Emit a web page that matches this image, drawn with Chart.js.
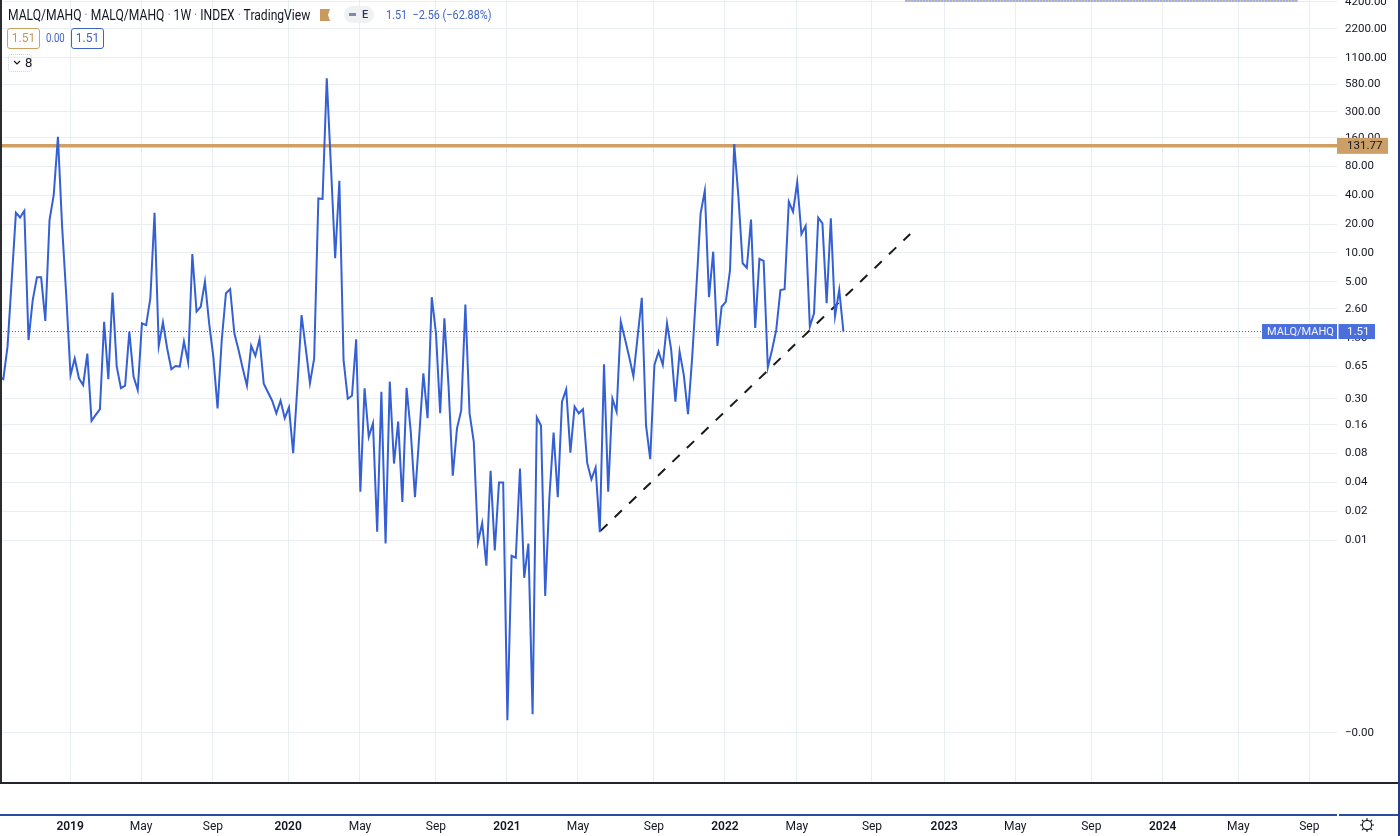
<!DOCTYPE html>
<html>
<head>
<meta charset="utf-8">
<title>MALQ/MAHQ</title>
<script src="https://cdn.jsdelivr.net/npm/chart.js"></script>
<style>
    html, body { margin: 0; padding: 0; background: #fff; }
    #wrap {
        position: relative;
        width: 1400px;
        height: 836px;
        overflow: hidden;
        font-family: Roboto, "Liberation Sans", sans-serif;
        color: #131722;
    }
    #wrap div, #wrap span, #wrap svg { position: absolute; white-space: nowrap; }
    #title { left: 8px; top: 7px; font-size: 14px; line-height: 17px; transform: scaleX(0.865); transform-origin: left; }
    #title i { font-style: normal; color: #8a93a6; }
    #pill { left: 344px; top: 6px; width: 30px; height: 17px; border-radius: 9px; background: #f0f1f3; }
    #pillE { left: 362px; top: 8px; font-size: 11px; line-height: 13px; font-weight: 500; color: #2a3a5e; }
    #pillDots { left: 349px; top: 13px; width: 7px; height: 3px; background: #7c8aa8; }
    #change { left: 386px; top: 7px; font-size: 13px; line-height: 16px; color: #3f64c8; transform: scaleX(0.835); transform-origin: left; }
    .box { box-sizing: border-box; height: 21px; top: 28px; border-radius: 3px; font-size: 12px; line-height: 19px; text-align: center; }
    #open { left: 7px; width: 33px; border: 1px solid #cf9f63; color: #c9985c; }
    #mid { left: 46px; top: 31px; font-size: 12px; line-height: 15px; color: #3f64c8; transform: scaleX(0.8); transform-origin: left; }
    #last { left: 71px; width: 33px; border: 1px solid #3f64c8; color: #3f64c8; }
    #more { box-sizing: border-box; left: 8px; top: 54px; width: 24px; height: 18px; border: 1px dotted #c9d2e6; border-radius: 3px; }
    #moreTxt { left: 25px; top: 56px; font-size: 13px; line-height: 14px; }
    #strip { left: 905px; top: 0; width: 393px; height: 2px; background: repeating-linear-gradient(90deg, #9fb0e8 0 2px, #d8c4a8 2px 3px); }
    #leftEdge { left: 0; top: 0; width: 2px; height: 784px; background: #2a2c30; }
    #rightEdge { left: 1398px; top: 0; width: 2px; height: 836px; background: #1f3d8f; }
    #paneLine { left: 0; top: 782px; width: 1398px; height: 2px; background: #22252b; }
    #axisLine { left: 0; top: 814px; width: 1398px; height: 2px; background: #2b4aa6; }
    #axisGap { left: 1337px; top: 813px; width: 2px; height: 4px; background: #fff; }
</style>
</head>
<body>
<div id="wrap">
    <canvas id="chart" width="1400" height="836"></canvas>
    <div id="leftEdge"></div>
    <div id="rightEdge"></div>
    <div id="paneLine"></div>
    <div id="axisLine"></div>
    <div id="axisGap"></div>
    <div id="strip"></div>
    <div id="title">MALQ/MAHQ <i>·</i> MALQ/MAHQ <i>·</i> 1W <i>·</i> INDEX <i>·</i> TradingView</div>
    <svg style="left:320px;top:9px" width="11" height="12" viewBox="0 0 11 12"><path d="M0 0H10L8 6L10 12H0Z" fill="#c99a5e"/></svg>
    <div id="pill"></div>
    <div id="pillDots"></div>
    <div id="pillE">E</div>
    <div id="change">1.51&nbsp; −2.56 (−62.88%)</div>
    <div id="open" class="box">1.51</div>
    <div id="mid">0.00</div>
    <div id="last" class="box">1.51</div>
    <div id="more"></div>
    <svg style="left:13px;top:60px" width="8" height="6" viewBox="0 0 8 6"><path d="M1 1L4 4L7 1" fill="none" stroke="#131722" stroke-width="1.2"/></svg>
    <div id="moreTxt">8</div>
    <svg style="left:1359px;top:817px" width="16" height="16" viewBox="0 0 16 16">
        <circle cx="8" cy="8" r="4.6" fill="none" stroke="#131722" stroke-width="1.1"/>
        <path d="M8 1V3M8 13V15M1 8H3M13 8H15M3 3L4.5 4.5M13 3L11.5 4.5M3 13L4.5 11.5M13 13L11.5 11.5" stroke="#131722" stroke-width="1.1"/>
    </svg>
</div>

<script>
// weekly closes
const closes = [
    0.51, 0.48, 1.05, 5.23, 26.3, 23.5, 27.6, 1.23, 3.22, 5.57,
    5.57, 1.95, 22.1, 40.4, 163.8, 18.8, 3.50, 0.53, 0.79, 0.49,
    0.416, 0.89, 0.176, 0.203, 0.233, 1.91, 0.48, 3.85, 0.65, 0.386,
    0.41, 1.51, 0.51, 0.37, 1.84, 1.76, 3.35, 26.3, 1.07, 1.89,
    1.01, 0.61, 0.66, 0.65, 1.19, 0.72, 9.75, 2.44, 2.74, 5.02,
    1.84, 0.82, 0.238, 1.23, 3.80, 4.19, 1.45, 0.97, 0.62, 0.41,
    1.07, 0.84, 1.26, 0.43, 0.35, 0.286, 0.211, 0.286, 0.188, 0.244,
    0.081, 0.40, 2.24, 1.01, 0.434, 0.79, 37.2, 36.7, 669, 79.7,
    8.8, 56.8, 0.76, 0.30, 0.322, 1.25, 0.032, 0.386, 0.12, 0.166,
    0.0122, 0.355, 0.0092, 0.452, 0.063, 0.173, 0.025, 0.39, 0.135, 0.028,
    0.12, 0.553, 0.188, 3.45, 1.45, 0.211, 2.08, 0.40, 0.047, 0.147,
    0.225, 2.90, 0.211, 0.106, 0.0095, 0.015, 0.0054, 0.053, 0.0078, 0.04,
    0.04, 0.000131, 0.00685, 0.00653, 0.056, 0.00403, 0.0092, 0.000151, 0.192, 0.157,
    0.0026, 0.028, 0.133, 0.028, 0.279, 0.376, 0.082, 0.248, 0.211, 0.233,
    0.064, 0.043, 0.057, 0.0121, 0.686, 0.032, 0.30, 0.219, 1.91, 1.26,
    0.82, 0.516, 1.33, 3.40, 0.159, 0.07, 0.676, 0.93, 0.676, 1.84,
    0.97, 0.279, 0.93, 0.53, 0.207, 0.82, 4.38, 25.9, 44.8, 3.45,
    10.31, 1.07, 2.74, 3.09, 6.62, 137.8, 38.7, 7.81, 7.0, 22.4,
    1.65, 8.67, 8.26, 0.64, 0.97, 1.57, 4.10, 4.19, 34.4, 27,
    54.8, 15.7, 19.2, 1.70, 2.34, 23.4, 20.4, 2.98, 23, 2.2,
    4.10, 1.51
];

// x ticks, in weeks from the first bar
const timeWeeks = [16.9, 33.8, 50.9, 68.8, 85.9, 104, 120.9, 137.8, 155.9, 172.8, 189.9, 207.8, 225, 241.9, 260, 277, 295, 311.9];
const timeLabels = ['2019', 'May', 'Sep', '2020', 'May', 'Sep', '2021', 'May', 'Sep', '2022', 'May', 'Sep', '2023', 'May', 'Sep', '2024', 'May', 'Sep'];

const priceTicks = [4200, 2200, 1100, 580, 300, 160, 80, 40, 20, 10, 5, 2.6, 1.3, 0.65, 0.3, 0.16, 0.08, 0.04, 0.02, 0.01, 0.000097];
const priceLabels = ['4200.00', '2200.00', '1100.00', '580.00', '300.00', '160.00', '80.00', '40.00', '20.00', '10.00', '5.00', '2.60', '1.30', '0.65', '0.30', '0.16', '0.08', '0.04', '0.02', '0.01', '−0.00'];

const weekMin = 0.21, weekMax = 318.5;
const priceMin = 0.0000296, priceMax = 4404;

const hLineValue = 131.77;
const lastValue = 1.51;
const trendWeeks = [143.1, 216.9];
const trendValues = [0.0124, 15.8];

const uiFont = 'Roboto, "Liberation Sans", sans-serif';

// price tags on the right, over the axis labels
const priceTags = {
    id: 'priceTags',
    afterDraw(chart) {
        const ctx = chart.ctx, yScale = chart.scales.y, right = chart.chartArea.right;
        ctx.save();
        ctx.textBaseline = 'middle';
        ctx.font = '11.5px ' + uiFont;

        let y = yScale.getPixelForValue(hLineValue);
        ctx.fillStyle = '#cb9f66';
        ctx.fillRect(right, y - 8, 51, 16);
        ctx.fillStyle = '#131722';
        ctx.fillText('131.77', right + 10, y + 0.5);

        y = yScale.getPixelForValue(lastValue);
        ctx.fillStyle = '#4a6fdc';
        ctx.fillRect(right - 75, y - 7.5, 75, 15);
        ctx.fillRect(right + 1.5, y - 7.5, 36.5, 15);
        ctx.fillStyle = '#f2f5fd';
        ctx.font = '11px ' + uiFont;
        ctx.fillText('MALQ/MAHQ', right - 70, y + 0.5);
        ctx.font = '11.5px ' + uiFont;
        ctx.fillText('1.51', right + 10, y + 0.5);
        ctx.restore();
    }
};

new Chart(document.getElementById('chart'), {
    type: 'line',
    data: {
        datasets: [
            {
                label: 'MALQ/MAHQ',
                data: closes.map((v, i) => ({ x: i, y: v })),
                borderColor: '#3560d4',
                borderWidth: 2,
                pointRadius: 0,
                tension: 0,
                order: 0
            },
            {
                label: 'trend',
                data: trendWeeks.map((w, i) => ({ x: w, y: trendValues[i] })),
                borderColor: '#1a1a1a',
                borderWidth: 2,
                borderDash: [10, 10],
                pointRadius: 0,
                order: 1
            },
            {
                label: 'level',
                data: [{ x: weekMin, y: hLineValue }, { x: weekMax, y: hLineValue }],
                borderColor: '#cf9f63',
                borderWidth: 3.5,
                pointRadius: 0,
                order: 2
            },
            {
                label: 'last',
                data: [{ x: weekMin, y: lastValue }, { x: weekMax, y: lastValue }],
                borderColor: '#3560d4',
                borderWidth: 1,
                borderDash: [1, 2],
                pointRadius: 0,
                order: 3
            }
        ]
    },
    options: {
        responsive: false,
        animation: false,
        layout: { padding: 0 },
        plugins: { legend: { display: false }, tooltip: { enabled: false } },
        scales: {
            x: {
                type: 'linear',
                min: weekMin,
                max: weekMax,
                afterBuildTicks: scale => { scale.ticks = timeWeeks.map(v => ({ value: v })); },
                afterFit: scale => { scale.height = 54; scale.paddingLeft = 0; scale.paddingRight = 0; },
                grid: { color: '#e9eef1', lineWidth: 1, drawTicks: false },
                border: { display: false },
                ticks: {
                    autoSkip: false,
                    maxRotation: 0,
                    padding: 38,
                    color: '#131722',
                    font: ctx => ({ family: uiFont, size: 12, weight: ctx.tick && /^\d/.test(ctx.tick.label) ? '600' : '400' }),
                    callback: (v, i) => timeLabels[i]
                }
            },
            y: {
                type: 'logarithmic',
                position: 'right',
                min: priceMin,
                max: priceMax,
                afterBuildTicks: scale => { scale.ticks = priceTicks.map(v => ({ value: v })); },
                afterFit: scale => { scale.width = 63; scale.paddingTop = 0; scale.paddingBottom = 0; },
                grid: { color: '#e9eef1', lineWidth: 1, drawTicks: false },
                border: { display: false },
                ticks: {
                    autoSkip: false,
                    padding: 8,
                    color: '#131722',
                    font: { family: uiFont, size: 11.5 },
                    callback: (v, i) => priceLabels[i]
                }
            }
        }
    },
    plugins: [priceTags]
});
</script>
</body>
</html>
